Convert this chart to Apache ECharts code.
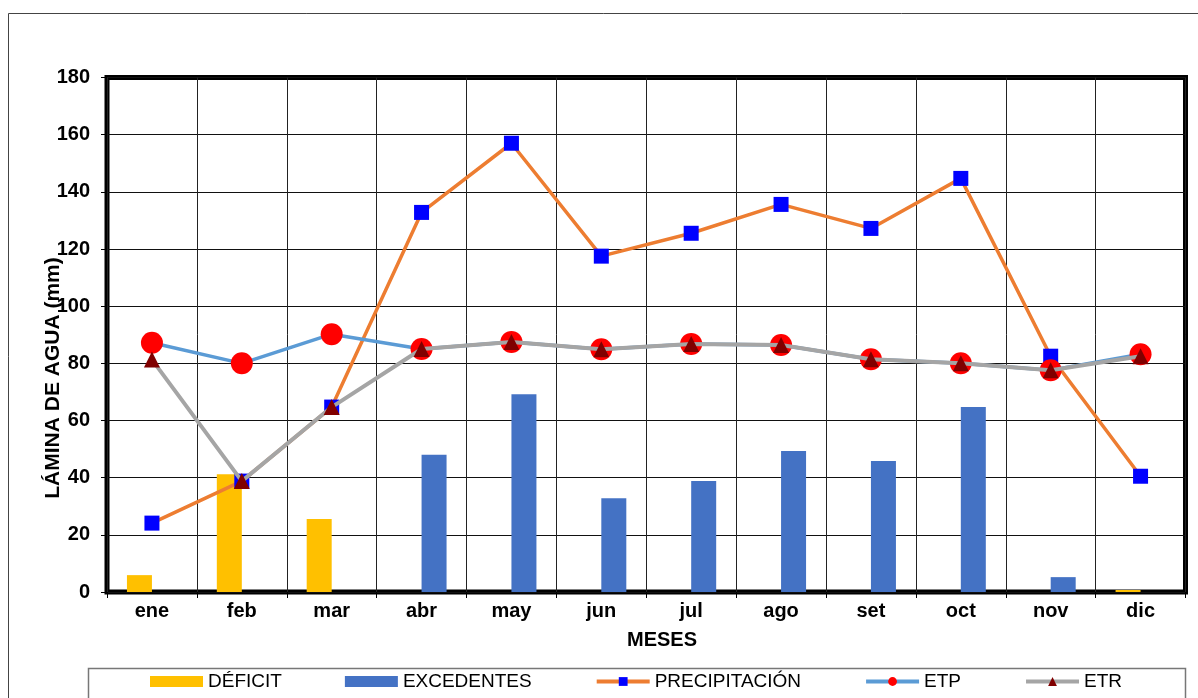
<!DOCTYPE html>
<html>
<head>
<meta charset="utf-8">
<script src="https://cdn.jsdelivr.net/npm/echarts@6/dist/echarts.min.js"></script>
<style>
html,body{margin:0;padding:0;background:#fff;}
#c{width:1198px;height:698px;}
</style>
</head>
<body>
<div id="c"></div>
<script>
const months = ['ene','feb','mar','abr','may','jun','jul','ago','set','oct','nov','dic'];
const deficit = [5.9, 41.2, 25.5, 0, 0, 0, 0, 0, 0, 0, 0, 0.7];
const excedentes = [0, 0, 0, 48, 69.2, 32.8, 38.8, 49.3, 45.8, 64.7, 5.2, 0];
const precipitacion = [24.1, 38.8, 64.7, 132.8, 157, 117.5, 125.5, 135.6, 127.2, 144.7, 82.5, 40.5];
const etp = [87.2, 80, 90.2, 85, 87.5, 84.9, 86.8, 86.4, 81.4, 80, 77.6, 83.2];
const etr = [81.3, 38.8, 64.7, 85, 87.5, 84.9, 86.8, 86.4, 81.4, 80, 77.6, 82.5];
const yTicks = {min: 0, max: 180, interval: 20};

const FONT = "'Liberation Sans', Arial, sans-serif";
const chart = echarts.init(document.getElementById('c'));
chart.setOption({
  animation: false,
  backgroundColor: '#fff',
  textStyle: {fontFamily: FONT},
  grid: {
    left: 107, right: 12.5, top: 77.5, bottom: 106,
    show: true, borderColor: '#000', borderWidth: 5, backgroundColor: 'transparent'
  },
  graphic: [
    {type: 'rect', shape: {x: 8.5, y: 13.5, width: 1220, height: 720},
     style: {fill: 'none', stroke: '#444', lineWidth: 1}, z: -10},
    {type: 'rect', shape: {x: 88.5, y: 668.5, width: 1097, height: 40},
     style: {fill: '#fff', stroke: '#777', lineWidth: 1.5}, z: -5},
    {type: 'text', x: 53, y: 378, rotation: Math.PI / 2,
     style: {text: 'LÁMINA DE AGUA (mm)', font: "bold 21px " + FONT, fill: '#000',
             align: 'center', verticalAlign: 'middle'}},
    {type: 'text', x: 662, y: 640,
     style: {text: 'MESES', font: "bold 20px " + FONT, fill: '#000',
             align: 'center', verticalAlign: 'middle'}}
  ],
  legend: {
    left: 150, top: 672, padding: 0, itemWidth: 53, itemHeight: 11, itemGap: 63,
    textStyle: {fontSize: 19, color: '#000', fontFamily: FONT},
    data: [
      {name: 'DÉFICIT', icon: 'rect'},
      {name: 'EXCEDENTES', icon: 'rect'},
      {name: 'PRECIPITACIÓN', lineStyle: {width: 4}},
      {name: 'ETP', lineStyle: {width: 4}},
      {name: 'ETR', lineStyle: {width: 4}}
    ]
  },
  xAxis: {
    type: 'category', data: months, boundaryGap: true,
    axisLine: {show: false},
    axisTick: {show: true, length: 6, interval: 0, lineStyle: {color: '#000', width: 1}},
    axisLabel: {interval: 0, margin: 9, fontSize: 20, fontWeight: 'bold', color: '#000', fontFamily: FONT},
    splitLine: {show: true, interval: 0, lineStyle: {color: '#222', width: 1}}
  },
  yAxis: {
    type: 'value', min: yTicks.min, max: yTicks.max, interval: yTicks.interval,
    axisLine: {show: false},
    axisTick: {show: true, length: 6, lineStyle: {color: '#000', width: 1}},
    axisLabel: {margin: 17, fontSize: 20, fontWeight: 'bold', color: '#000', fontFamily: FONT},
    splitLine: {show: true, lineStyle: {color: '#111', width: 1}}
  },
  series: [
    {name: 'DÉFICIT', type: 'bar', data: deficit, barWidth: 25, barGap: '0%',
     itemStyle: {color: '#FFC000'}},
    {name: 'EXCEDENTES', type: 'bar', data: excedentes, barWidth: 25, barGap: '0%',
     itemStyle: {color: '#4472C4'}},
    {name: 'PRECIPITACIÓN', type: 'line', data: precipitacion, symbol: 'rect', symbolSize: 15,
     lineStyle: {color: '#ED7D31', width: 3.5}, itemStyle: {color: '#0000FF'}, z: 3},
    {name: 'ETP', type: 'line', data: etp, symbol: 'circle', symbolSize: 22,
     lineStyle: {color: '#5B9BD5', width: 3.5}, itemStyle: {color: '#FF0000'}, z: 4},
    {name: 'ETR', type: 'line', data: etr, symbol: 'triangle', symbolSize: 16,
     lineStyle: {color: '#A5A5A5', width: 4}, itemStyle: {color: '#800000'}, z: 5}
  ]
});
</script>
</body>
</html>
